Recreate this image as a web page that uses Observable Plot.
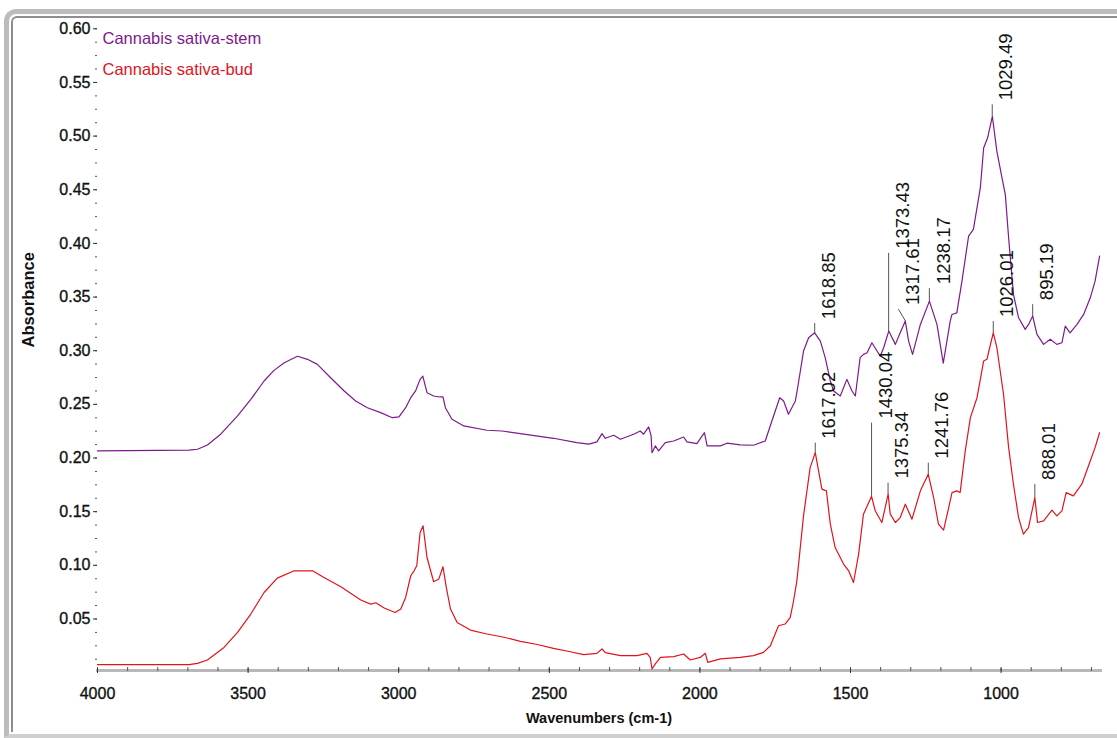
<!DOCTYPE html>
<html>
<head>
<meta charset="utf-8">
<script src="https://cdn.jsdelivr.net/npm/d3@7"></script>
<script src="https://cdn.jsdelivr.net/npm/@observablehq/plot@0.6"></script>
<style>
  html, body { margin: 0; padding: 0; background: #fff; }
  body { width: 1117px; height: 738px; overflow: hidden; position: relative; font-family: Arial, "Liberation Sans", sans-serif; }
  #chart { position: absolute; left: 0; top: 0; }
  #outer { position: absolute; left: 4px; top: 9px; width: 1200px; height: 729px; box-sizing: border-box;
           border-left: 5px solid #bcbcbc; border-top: 5px solid #bcbcbc; border-bottom: 4px solid #cfcfcf;
           border-radius: 12px 0 0 0; pointer-events: none; }
  #inner { position: absolute; left: 11px; top: 16px; width: 1200px; height: 716px; box-sizing: border-box;
           border-left: 2px solid #8e8e8e; border-top: 2px solid #8e8e8e; border-radius: 6px 0 0 0; pointer-events: none; }
  g[aria-label$="tick label"] text { stroke: #111; stroke-width: 0.35px; }
</style>
</head>
<body>
<div id="chart"></div>
<div id="outer"></div>
<div id="inner"></div>
<script>
// ---- Data (wavenumber cm-1, absorbance) ----
const stemWn = [4000,3696,3668,3635,3591,3535,3491,3447,3414,3380,3336,3303,3270,3226,3181,3143,3104,3060,3021,2999,2977,2960,2944,2929,2920,2906,2884,2862,2853,2845,2823,2784,2707,2657,2596,2486,2408,2369,2342,2325,2314,2286,2264,2220,2198,2187,2170,2162,2159,2148,2137,2115,2087,2054,2043,2010,1985,1976,1932,1910,1866,1822,1783,1761,1735,1722,1706,1683,1675,1656,1639,1619,1600,1584,1567,1556,1534,1512,1495,1484,1468,1457,1445,1429,1412,1401,1390,1373,1351,1335,1318,1307,1294,1268,1238,1213,1192,1169,1163,1147,1130,1108,1092,1069,1058,1045,1029,1014,997,986,975,959,942,920,909,895,881,859,837,815,798,787,771,748,726,704,688,673];
const stemAbs = [0.2066,0.2073,0.2082,0.2122,0.2222,0.2392,0.2547,0.2718,0.2817,0.2888,0.2948,0.2920,0.2873,0.2748,0.2625,0.2532,0.2469,0.2423,0.2376,0.2383,0.2469,0.2562,0.2625,0.2733,0.2764,0.2609,0.2578,0.2569,0.2569,0.2469,0.2361,0.2299,0.2259,0.2252,0.2227,0.2184,0.2143,0.2129,0.2150,0.2227,0.2184,0.2212,0.2175,0.2222,0.2252,0.2222,0.2290,0.2206,0.2050,0.2113,0.2066,0.2143,0.2159,0.2196,0.2150,0.2134,0.2236,0.2113,0.2113,0.2138,0.2122,0.2119,0.2159,0.2345,0.2562,0.2532,0.2408,0.2532,0.2662,0.2997,0.3121,0.3167,0.3090,0.2935,0.2718,0.2625,0.2578,0.2733,0.2625,0.2578,0.2935,0.2966,0.2981,0.3074,0.2997,0.2950,0.3028,0.3183,0.3059,0.3167,0.3276,0.3090,0.2966,0.3245,0.3462,0.3245,0.2885,0.3276,0.3338,0.3353,0.3648,0.4067,0.4130,0.4517,0.4889,0.4982,0.5184,0.4858,0.4610,0.4455,0.4051,0.3525,0.3307,0.3199,0.3245,0.3323,0.3152,0.3059,0.3106,0.3059,0.3074,0.3230,0.3167,0.3245,0.3338,0.3493,0.3648,0.3881];

const budWn = [4000,3696,3668,3635,3580,3535,3491,3447,3403,3347,3286,3248,3192,3126,3093,3076,3048,3012,2993,2977,2960,2949,2940,2929,2919,2906,2884,2867,2853,2842,2828,2806,2762,2707,2650,2596,2540,2486,2430,2386,2342,2325,2314,2264,2209,2176,2165,2159,2148,2131,2087,2054,2032,1999,1982,1974,1932,1866,1822,1789,1766,1739,1717,1700,1689,1678,1656,1634,1617,1606,1595,1580,1567,1551,1523,1506,1490,1473,1457,1430,1418,1396,1375,1368,1351,1335,1318,1296,1268,1242,1224,1208,1191,1174,1163,1147,1136,1119,1102,1080,1058,1047,1042,1026,1014,992,975,959,942,926,909,888,879,859,831,815,798,784,760,732,704,688,673];
const budAbs = [0.0074,0.0074,0.0087,0.0118,0.0235,0.0375,0.0546,0.0747,0.0881,0.0949,0.0949,0.0887,0.0800,0.0677,0.0639,0.0651,0.0602,0.0561,0.0593,0.0701,0.0903,0.0949,0.0996,0.1306,0.1368,0.1073,0.0847,0.0872,0.0987,0.0794,0.0593,0.0468,0.0397,0.0360,0.0330,0.0291,0.0262,0.0226,0.0195,0.0168,0.0180,0.0221,0.0186,0.0158,0.0158,0.0180,0.0142,0.0034,0.0081,0.0142,0.0149,0.0174,0.0118,0.0142,0.0180,0.0096,0.0128,0.0142,0.0158,0.0189,0.0251,0.0437,0.0453,0.0515,0.0670,0.0856,0.1461,0.1911,0.2050,0.1880,0.1710,0.1694,0.1384,0.1166,0.1012,0.0949,0.0840,0.1105,0.1477,0.1643,0.1508,0.1399,0.1663,0.1477,0.1399,0.1445,0.1570,0.1430,0.1694,0.1849,0.1632,0.1384,0.1328,0.1538,0.1678,0.1694,0.1678,0.2066,0.2376,0.2562,0.2904,0.2920,0.2981,0.3167,0.3028,0.2594,0.2097,0.1756,0.1445,0.1291,0.1352,0.1632,0.1399,0.1415,0.1514,0.1461,0.1508,0.1678,0.1647,0.1756,0.1973,0.2097,0.2236];

// Peak annotations
const peakLabels = ["1618.85","1373.43","1317.61","1238.17","1029.49","895.19","1617.02","1430.04","1375.34","1241.76","1026.01","888.01"];
const peakWn     = [1618.85,1373.43,1317.61,1238.17,1029.49,895.19,1617.02,1430.04,1375.34,1241.76,1026.01,888.01];
const peakAbs    = [0.3167,0.3183,0.3276,0.3462,0.5184,0.3323,0.2050,0.1643,0.1663,0.1849,0.3167,0.1632];
const leaderWn   = [1618.85,1373.43,1341,1238.17,1029.49,895.19,1617.02,1430.04,1375.34,1241.76,1026.01,888.01];
const leaderAbs  = [0.3257,0.3912,0.3388,0.3583,0.5296,0.3434,0.2143,0.2330,0.1771,0.1957,0.3276,0.1759];

const seriesNames = ["Cannabis sativa-stem", "Cannabis sativa-bud"];
const seriesColors = ["#7d1a8c", "#e0141c"];
const xMajor = [4000,3500,3000,2500,2000,1500,1000];
const xMinor = d3.range(700, 4001, 100);
const yMajor = [0.05,0.10,0.15,0.20,0.25,0.30,0.35,0.40,0.45,0.50,0.55,0.60];
const yMinor = d3.range(1, 49).map(i => i * 0.0125);

const stem = stemWn.map((w, i) => ({wn: w, a: stemAbs[i]}));
const bud = budWn.map((w, i) => ({wn: w, a: budAbs[i]}));
const peaks = peakLabels.map((t, i) => ({label: t, wn: peakWn[i], a: peakAbs[i], wnTop: leaderWn[i], aTop: leaderAbs[i]}));

const chart = Plot.plot({
  width: 1117,
  height: 738,
  marginLeft: 97,
  marginRight: 17,
  marginTop: 24,
  marginBottom: 68,
  x: {domain: [4000, 670]},
  y: {domain: [0.002, 0.604]},
  style: {fontFamily: "Arial, 'Liberation Sans', sans-serif", background: "transparent", color: "#111"},
  marks: [
    Plot.frame({anchor: "bottom", stroke: "#b8b8b8", strokeWidth: 3}),
    Plot.axisX({ticks: xMinor, tickSize: 4, dy: -3, tickFormat: () => "", stroke: "#555", label: null}),
    Plot.axisX({ticks: xMajor, tickSize: 5, dy: -2, tickPadding: 14, tickFormat: d3.format("d"), fontSize: 16, stroke: "#333", label: null}),
    Plot.axisY({ticks: yMinor, tickSize: 2, tickFormat: () => "", stroke: "#555", label: null}),
    Plot.axisY({ticks: yMajor, tickSize: 4, tickPadding: 3, tickFormat: d3.format(".2f"), fontSize: 16, stroke: "#333", label: null}),
    Plot.line(stem, {x: "wn", y: "a", stroke: seriesColors[0], strokeWidth: 1.2}),
    Plot.line(bud, {x: "wn", y: "a", stroke: seriesColors[1], strokeWidth: 1.2}),
    Plot.link(peaks, {x1: "wn", y1: "a", x2: "wnTop", y2: "aTop", stroke: "#555", strokeWidth: 1}),
    Plot.text(peaks, {x: "wnTop", y: "aTop", text: "label", rotate: -90, textAnchor: "start", lineAnchor: "top", dx: 7, dy: -4, fontSize: 18.5, fill: "#111"}),
    Plot.text([seriesNames[0]], {text: d => d, frameAnchor: "top-left", dx: 5, dy: 14, textAnchor: "start", lineAnchor: "middle", fontSize: 16.5, fill: seriesColors[0]}),
    Plot.text([seriesNames[1]], {text: d => d, frameAnchor: "top-left", dx: 5, dy: 45, textAnchor: "start", lineAnchor: "middle", fontSize: 16.5, fill: seriesColors[1]}),
    Plot.text(["Absorbance"], {text: d => d, frameAnchor: "left", dx: -69, rotate: -90, lineAnchor: "middle", fontSize: 16.5, fontWeight: "bold", fill: "#111"}),
    Plot.text(["Wavenumbers (cm-1)"], {text: d => d, frameAnchor: "bottom", dy: 48, lineAnchor: "middle", fontSize: 14.5, fontWeight: "bold", fill: "#111"})
  ]
});
document.getElementById("chart").appendChild(chart);
</script>
</body>
</html>
